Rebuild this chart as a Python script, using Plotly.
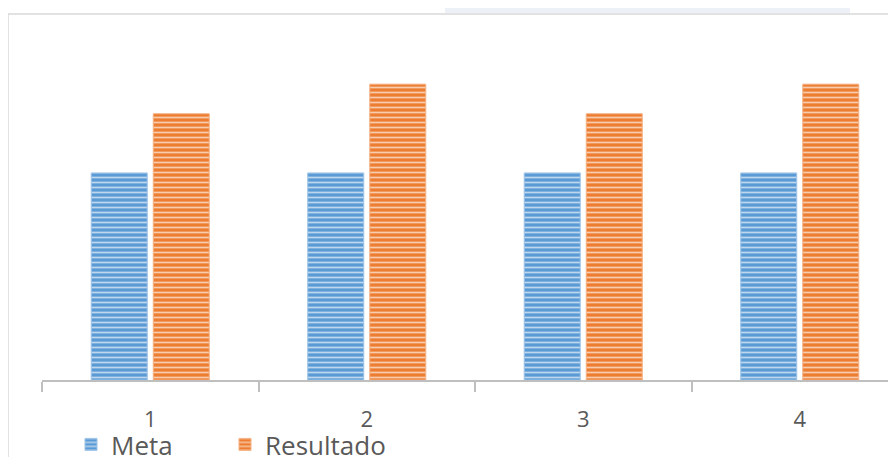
import plotly.graph_objects as go

categories = [1, 2, 3, 4]
tick_labels = ["1", "2", "3", "4"]
meta = [70, 70, 70, 70]
resultado = [90, 100, 90, 100]
series_names = ["Meta", "Resultado"]

OFF = 8  # page body margin offset
W, H = 896, 457
L, T = 42 - OFF, 25 - OFF
BASE = 380 - OFF
R = 0
B = H - BASE
pw, ph = W - L - R, H - T - B

def px_x(p):
    return (p - OFF - L) / pw

def px_y(p):
    return (BASE - (p - OFF)) / ph

NB = "\u00a0"
fig = go.Figure()
fig.add_trace(go.Bar(
    x=categories, y=meta, name=series_names[0] + NB * 7,
    marker=dict(color="#5B9BD5", line=dict(color="#9DC3E6", width=1),
                pattern=dict(shape="-", fillmode="overlay", fgcolor="white",
                             fgopacity=0.6, size=5, solidity=0.35)),
))
fig.add_trace(go.Bar(
    x=categories, y=resultado, name=series_names[1],
    marker=dict(color="#ED7D31", line=dict(color="#F4B183", width=1),
                pattern=dict(shape="-", fillmode="overlay", fgcolor="white",
                             fgopacity=0.6, size=5, solidity=0.35)),
))

shapes = []
bg = "#EEF0F8"
for (x0, y0, x1, y1) in [(445, -10, 850, 13), (-10, 125, 7, 165), (-10, 200, 7, 240),
                         (-10, 377, 7, 410), (-10, 437, 7, 470)]:
    shapes.append(dict(type="rect", xref="paper", yref="paper",
                       x0=px_x(x0), x1=px_x(x1), y0=px_y(y1), y1=px_y(y0),
                       fillcolor=bg, line=dict(width=0), layer="below"))
shapes.append(dict(type="line", xref="paper", yref="paper",
                   x0=px_x(8), x1=px_x(910), y0=px_y(14), y1=px_y(14),
                   line=dict(color="#D9D9D9", width=1.5)))
shapes.append(dict(type="line", xref="paper", yref="paper",
                   x0=px_x(8), x1=px_x(8), y0=px_y(14), y1=px_y(470),
                   line=dict(color="#D9D9D9", width=1.5)))

fig.update_layout(
    width=W, height=H,
    margin=dict(l=L, r=R, t=T, b=B, autoexpand=False),
    paper_bgcolor="white", plot_bgcolor="white",
    barmode="group", bargap=0.427, bargroupgap=0.097,
    font=dict(family="Open Sans, Lato, sans-serif", color="#595959"),
    shapes=shapes,
    showlegend=True,
    legend=dict(orientation="h", x=px_x(71), y=px_y(421), xanchor="left", yanchor="top",
                font=dict(size=26, color="#595959"), bgcolor="rgba(0,0,0,0)",
                itemclick=False),
    xaxis=dict(range=[0.5, 0.5 + pw / 216.5], tickvals=categories, ticktext=tick_labels,
               ticks="", showgrid=False, zeroline=False,
               showline=True, linecolor="#BFBFBF", linewidth=2,
               tickfont=dict(size=22, color="#595959"), ticklabelstandoff=19,
               minor=dict(tickvals=[0.5, 1.5, 2.5, 3.5, 4.5], ticks="outside",
                          ticklen=10, tickwidth=2, tickcolor="#BFBFBF", showgrid=False)),
    yaxis=dict(range=[0, 120], visible=False, showgrid=False, zeroline=False),
)

fig.write_html("out.html")
